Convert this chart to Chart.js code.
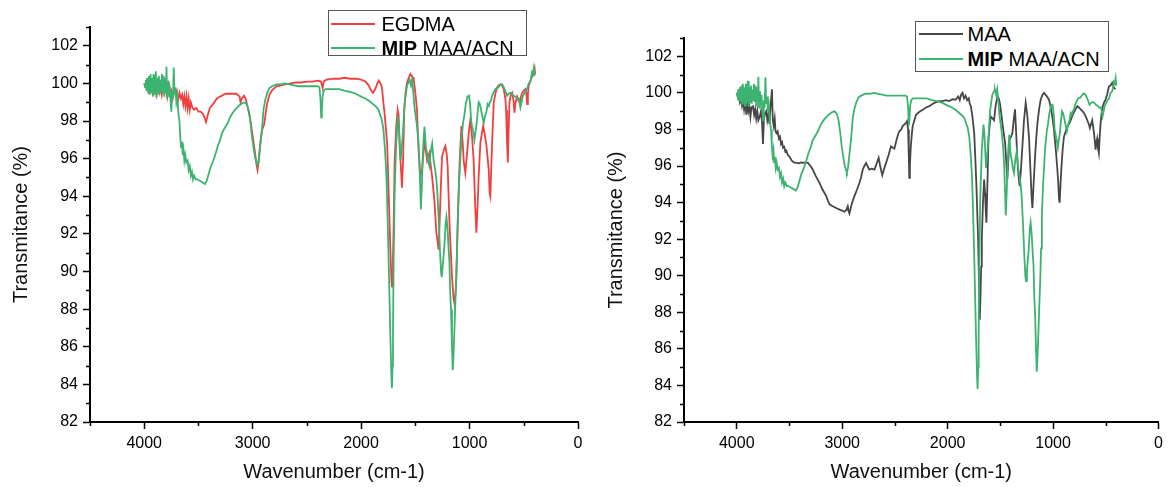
<!DOCTYPE html>
<html>
<head>
<meta charset="utf-8">
<title>FTIR spectra</title>
<script src="https://cdn.jsdelivr.net/npm/chart.js@4.4.1/dist/chart.umd.min.js"></script>
<style>
  html, body { margin: 0; padding: 0; background: #fff; }
  body { width: 1168px; height: 487px; position: relative; overflow: hidden; }
  canvas { position: absolute; top: 0; }
  #ftirLeft { left: 0; }
  #ftirRight { left: 590px; }
  .legend {
    position: absolute; box-sizing: border-box; background: #fff;
    border: 1.5px solid #555; color: #000;
    font: 20px 'Liberation Sans', Arial, sans-serif;
  }
  .legend .row {
    position: absolute; left: 0; height: 20px; line-height: 20px;
    display: flex; align-items: center; white-space: nowrap;
  }
  .legend .swatch { display: block; width: 44px; height: 2px; flex: none; }
  #legendLeft { left: 328px; top: 10px; width: 199px; height: 46px; }
  #legendRight { left: 915px; top: 21px; width: 194px; height: 51px; }
</style>
</head>
<body>
<canvas id="ftirLeft" width="590" height="487"></canvas>
<canvas id="ftirRight" width="578" height="487"></canvas>
<div id="legendLeft" class="legend"></div>
<div id="legendRight" class="legend"></div>

<script>
// ---- Axis ticks ----
const xTicks = [4000, 3000, 2000, 1000, 0];
const xMinorTicks = [4500, 3500, 2500, 1500, 500];
const yTicks = [82, 84, 86, 88, 90, 92, 94, 96, 98, 100, 102];
const yMinorTicks = [83, 85, 87, 89, 91, 93, 95, 97, 99, 101, 103];

// ---- Series labels ----
const seriesEgdma = 'EGDMA';
const seriesMaa = 'MAA';
const seriesMip = 'MIP MAA/ACN';

// ---- EGDMA spectrum (wavenumber cm-1, transmittance %) ----
const egdmaWn = [
  4000, 3985, 3975, 3962, 3950, 3938, 3925, 3912, 3900, 3888, 3875, 3862, 3850, 3838, 3825, 3812,
  3800, 3788, 3775, 3762, 3750, 3738, 3725, 3712, 3700, 3688, 3675, 3662, 3650, 3640, 3630, 3620,
  3610, 3600, 3590, 3580, 3570, 3555, 3540, 3520, 3500, 3480, 3460, 3445, 3430, 3415, 3395, 3365,
  3330, 3300, 3250, 3200, 3150, 3120, 3112, 3100, 3080, 3065, 3045, 3025, 3000, 2980, 2965, 2955,
  2945, 2932, 2915, 2895, 2880, 2868, 2845, 2820, 2780, 2740, 2700, 2650, 2600, 2550, 2500, 2450,
  2400, 2370, 2355, 2345, 2320, 2250, 2200, 2150, 2100, 2050, 2000, 1960, 1930, 1910, 1890, 1870,
  1850, 1838, 1822, 1808, 1795, 1785, 1770, 1760, 1746, 1731, 1720, 1715, 1706, 1700, 1691, 1676,
  1663, 1654, 1645, 1632, 1623, 1613, 1602, 1590, 1577, 1560, 1546, 1530, 1516, 1500, 1485, 1469,
  1454, 1438, 1417, 1405, 1392, 1371, 1346, 1325, 1306, 1285, 1269, 1254, 1235, 1223, 1210, 1202,
  1184, 1162, 1148, 1140, 1130, 1122, 1110, 1091, 1075, 1063, 1054, 1039, 1023, 1005, 992, 975,
  962, 948, 937, 925, 916, 900, 875, 860, 844, 823, 815, 808, 800, 792, 777, 760,
  746, 730, 715, 700, 685, 670, 663, 655, 647, 640, 632, 620, 607, 595, 586, 575,
  561, 548, 537, 525, 515, 500, 484, 475, 469, 462, 454, 440, 423, 410, 401, 395
];
const egdmaT = [
  100.0, 99.8, 100.1, 99.7, 99.9, 99.6, 99.9, 99.5, 99.8, 99.4, 99.9, 99.5, 99.8, 99.4, 100.0, 99.5,
  99.7, 99.3, 99.9, 99.4, 99.6, 99.2, 99.7, 99.4, 99.6, 99.1, 99.5, 99.2, 99.4, 98.9, 99.3, 98.8,
  99.3, 98.7, 99.2, 98.6, 99.0, 98.7, 98.6, 98.7, 98.5, 98.5, 98.4, 98.2, 97.95, 98.3, 98.7, 98.9,
  99.2, 99.3, 99.45, 99.45, 99.45, 99.3, 99.0, 99.2, 99.35, 99.2, 98.7, 98.2, 97.2, 96.4, 95.7, 95.4,
  95.8, 96.7, 97.5, 97.8, 98.4, 98.9, 99.4, 99.65, 99.85, 99.9, 99.95, 100.0, 100.05, 100.05, 100.1, 100.1,
  100.15, 100.1, 99.75, 100.1, 100.2, 100.25, 100.25, 100.3, 100.25, 100.25, 100.2, 100.1, 99.9, 99.65, 99.5, 99.7,
  100.0, 100.15, 100.0, 99.8, 99.0, 98.5, 97.5, 96.8, 94.2, 91.3, 89.5, 89.2, 90.8, 92.4, 95.9, 97.7,
  98.6, 98.3, 96.7, 95.4, 94.45, 95.9, 98.6, 99.5, 100.05, 100.3, 100.5, 100.35, 100.3, 99.5, 98.6, 96.3,
  95.07, 95.4, 96.85, 96.5, 95.9, 96.3, 95.07, 93.83, 92.06, 91.17, 93.8, 96.1, 96.5, 96.67, 96.2, 95.6,
  92.4, 89.74, 88.6, 88.33, 88.8, 89.7, 92.4, 95.9, 97.74, 96.8, 95.9, 95.25, 96.3, 97.5, 98.1, 97.0,
  95.9, 93.5, 92.06, 93.6, 95.07, 96.85, 97.74, 97.3, 96.7, 95.4, 94.2, 94.0, 95.5, 96.85, 98.99, 99.5,
  99.79, 99.9, 99.95, 99.9, 99.7, 99.2, 98.6, 97.0, 95.8, 97.5, 99.0, 99.4, 99.5, 99.1, 98.45, 99.0,
  99.3, 99.1, 98.99, 99.3, 99.5, 99.6, 99.7, 99.4, 98.9, 99.4, 99.9, 100.1, 100.4, 100.7, 100.85, 100.5
];

// ---- MIP MAA/ACN spectrum ----
const mipWn = [
  4000, 3992, 3985, 3978, 3970, 3963, 3956, 3949, 3942, 3935, 3928, 3921, 3914, 3907, 3900, 3893,
  3886, 3879, 3872, 3865, 3858, 3851, 3844, 3837, 3830, 3822, 3815, 3808, 3800, 3795, 3788, 3780,
  3772, 3765, 3757, 3750, 3743, 3735, 3728, 3720, 3712, 3704, 3695, 3685, 3675, 3668, 3660, 3652,
  3645, 3638, 3630, 3622, 3612, 3600, 3590, 3580, 3570, 3560, 3550, 3540, 3525, 3510, 3495, 3480,
  3465, 3450, 3440, 3425, 3405, 3385, 3363, 3340, 3320, 3300, 3280, 3260, 3230, 3200, 3170, 3147,
  3120, 3095, 3072, 3050, 3035, 3020, 3005, 2990, 2975, 2962, 2955, 2945, 2932, 2915, 2900, 2885,
  2865, 2845, 2820, 2780, 2740, 2700, 2660, 2620, 2580, 2540, 2500, 2450, 2400, 2385, 2375, 2368,
  2362, 2355, 2345, 2330, 2300, 2250, 2200, 2150, 2100, 2050, 2000, 1960, 1920, 1890, 1860, 1840,
  1823, 1810, 1795, 1780, 1770, 1762, 1746, 1731, 1720, 1716, 1710, 1706, 1700, 1691, 1676, 1660,
  1652, 1645, 1636, 1625, 1614, 1598, 1577, 1560, 1552, 1540, 1530, 1520, 1509, 1495, 1485, 1473,
  1463, 1455, 1449, 1440, 1433, 1424, 1416, 1402, 1392, 1380, 1370, 1360, 1345, 1331, 1317, 1306,
  1297, 1285, 1272, 1262, 1256, 1248, 1233, 1220, 1213, 1202, 1193, 1186, 1178, 1171, 1162, 1155,
  1150, 1140, 1130, 1122, 1114, 1106, 1095, 1085, 1075, 1060, 1048, 1035, 1020, 1005, 995, 985,
  977, 965, 955, 946, 937, 928, 916, 905, 894, 880, 869, 856, 844, 834, 823, 812,
  802, 792, 780, 762, 740, 715, 700, 685, 670, 654, 640, 624, 608, 593, 578, 562,
  545, 531, 520, 510, 500, 485, 469, 455, 438, 424, 415, 407, 400
];
const mipT = [
  100.0, 99.8, 100.2, 99.6, 100.3, 99.5, 100.4, 99.4, 100.5, 99.5, 100.3, 99.3, 100.5, 99.4, 100.4, 100.65,
  99.25, 100.3, 99.5, 100.4, 99.4, 100.2, 99.6, 100.5, 99.5, 100.4, 99.3, 100.3, 99.5, 100.88, 99.2, 100.1,
  99.3, 99.9, 99.1, 98.5, 99.6, 99.2, 100.85, 99.4, 99.8, 99.0, 99.3, 98.4, 98.0, 97.2, 96.6, 96.9,
  96.2, 96.5, 95.9, 96.2, 95.8, 95.9, 95.4, 95.6, 95.1, 95.3, 94.9, 95.1, 94.9, 94.9, 94.85, 94.8,
  94.75, 94.7, 94.65, 94.8, 95.2, 95.6, 95.9, 96.3, 96.7, 97.0, 97.4, 97.6, 97.9, 98.3, 98.55, 98.7,
  98.85, 98.95, 98.99, 98.85, 98.5, 97.9, 97.1, 96.5, 96.0, 95.75, 95.65, 95.9, 96.6, 97.5, 98.6, 99.1,
  99.5, 99.75, 99.85, 99.95, 99.95, 100.0, 99.95, 99.9, 99.85, 99.85, 99.85, 99.85, 99.85, 99.8, 99.2, 98.2,
  98.6, 99.3, 99.6, 99.7, 99.7, 99.7, 99.7, 99.6, 99.55, 99.45, 99.3, 99.2, 99.05, 98.9, 98.75, 98.6,
  98.3, 98.1, 97.6, 96.5, 95.5, 94.2, 90.6, 86.7, 84.3, 83.8, 85.0, 86.7, 90.6, 94.2, 96.85, 98.27,
  97.8, 97.0, 95.9, 96.6, 97.4, 99.0, 99.87, 100.1, 100.2, 99.9, 100.2, 99.6, 98.8, 98.2, 97.74, 97.0,
  95.9, 94.5, 93.3, 94.5, 95.9, 97.0, 97.7, 96.6, 96.3, 95.8, 95.6, 96.3, 96.8, 95.9, 95.4, 94.9,
  94.2, 92.8, 91.0, 89.9, 89.7, 90.3, 91.3, 92.6, 92.9, 92.2, 91.2, 90.6, 88.8, 87.97, 86.0, 84.75,
  85.2, 86.8, 88.5, 89.74, 91.5, 93.3, 95.0, 96.0, 97.0, 97.9, 98.3, 98.9, 99.3, 99.35, 98.9, 98.0,
  97.74, 97.4, 97.0, 97.4, 97.74, 98.3, 99.0, 98.9, 98.6, 98.2, 97.9, 98.3, 98.5, 98.9, 98.8, 99.0,
  99.1, 99.34, 99.5, 99.7, 99.75, 99.95, 99.95, 99.8, 99.6, 99.34, 99.45, 99.5, 99.45, 99.34, 99.3, 99.2,
  99.2, 98.72, 99.0, 99.3, 99.4, 99.6, 99.7, 100.0, 100.1, 100.6, 100.5, 100.8, 100.4
];

// ---- MAA spectrum ----
const maaWn = [
  4000, 3990, 3980, 3970, 3960, 3950, 3940, 3930, 3920, 3908, 3900, 3890, 3880, 3870, 3860, 3846,
  3835, 3825, 3815, 3805, 3795, 3782, 3770, 3760, 3751, 3742, 3730, 3719, 3710, 3700, 3690, 3680,
  3666, 3658, 3650, 3640, 3632, 3624, 3612, 3600, 3590, 3580, 3570, 3561, 3550, 3540, 3530, 3515,
  3498, 3480, 3460, 3435, 3410, 3390, 3373, 3350, 3325, 3300, 3278, 3250, 3215, 3185, 3151, 3135,
  3120, 3090, 3057, 3020, 2995, 2978, 2960, 2947, 2938, 2931, 2915, 2900, 2884, 2860, 2836, 2820,
  2805, 2790, 2773, 2760, 2742, 2720, 2694, 2675, 2654, 2640, 2628, 2620, 2605, 2584, 2560, 2537,
  2520, 2505, 2490, 2472, 2458, 2440, 2425, 2410, 2395, 2385, 2375, 2368, 2364, 2358, 2350, 2340,
  2332, 2315, 2300, 2270, 2237, 2205, 2174, 2140, 2111, 2080, 2050, 2016, 1985, 1955, 1922, 1900,
  1885, 1872, 1859, 1845, 1830, 1815, 1800, 1790, 1780, 1765, 1748, 1736, 1727, 1711, 1702, 1695,
  1688, 1682, 1676, 1665, 1654, 1645, 1638, 1632, 1625, 1613, 1600, 1591, 1575, 1560, 1545, 1528,
  1515, 1503, 1492, 1481, 1468, 1455, 1445, 1434, 1424, 1412, 1398, 1386, 1372, 1361, 1350, 1339,
  1328, 1317, 1305, 1292, 1276, 1260, 1245, 1228, 1215, 1203, 1196, 1185, 1171, 1160, 1149, 1133,
  1118, 1100, 1086, 1065, 1039, 1022, 1008, 992, 976, 962, 951, 944, 938, 928, 919, 908,
  897, 880, 866, 850, 834, 820, 805, 788, 771, 755, 739, 722, 707, 690, 676, 662,
  651, 640, 629, 612, 597, 590, 582, 575, 566, 558, 550, 540, 528, 515, 503, 488,
  471, 455, 440, 425, 408
];
const maaT = [
  100.0, 99.8, 99.9, 99.5, 99.7, 99.3, 99.63, 99.1, 99.5, 98.8, 99.4, 99.0, 99.3, 98.7, 99.2, 99.27,
  98.8, 99.1, 98.6, 99.0, 98.5, 98.7, 99.0, 98.4, 97.2, 98.6, 98.9, 99.0, 98.5, 98.8, 98.3, 99.2,
  100.2, 98.5, 98.2, 98.6, 97.9, 97.8, 97.9, 97.5, 97.6, 97.2, 97.3, 97.0, 97.05, 96.8, 96.85, 96.6,
  96.5, 96.3, 96.2, 96.17, 96.15, 96.2, 96.17, 96.2, 96.17, 96.0, 95.8, 95.45, 95.08, 94.7, 94.35, 94.1,
  93.9, 93.8, 93.7, 93.6, 93.55, 93.5, 93.6, 93.8, 93.5, 93.4, 93.8, 94.1, 94.35, 94.7, 95.08, 95.4,
  95.8, 96.0, 96.17, 96.0, 95.8, 95.85, 95.8, 96.1, 96.45, 96.0, 95.7, 95.5, 95.8, 96.17, 96.6, 97.08,
  97.0, 96.95, 97.3, 97.7, 97.9, 98.0, 98.2, 98.27, 98.35, 98.45, 98.0, 96.5, 95.35, 96.0, 97.0, 97.7,
  98.17, 98.5, 98.8, 98.95, 99.07, 99.2, 99.27, 99.4, 99.49, 99.55, 99.55, 99.6, 99.55, 99.65, 99.63, 99.8,
  99.6, 99.9, 100.0, 99.7, 99.85, 99.6, 99.7, 99.4, 99.27, 98.7, 97.8, 96.2, 94.9, 92.0, 89.5, 87.6,
  89.0, 90.5, 92.0, 94.0, 95.26, 94.5, 93.5, 92.9, 94.5, 97.45, 98.3, 98.7, 98.6, 98.5, 99.3, 99.8,
  99.7, 99.4, 98.9, 98.36, 97.8, 97.27, 96.3, 95.26, 96.4, 97.5, 97.6, 97.8, 98.6, 99.1, 97.8, 96.35,
  95.5, 94.9, 95.8, 97.0, 98.5, 99.45, 98.8, 97.5, 95.8, 94.2, 93.7, 95.0, 96.5, 97.5, 98.3, 99.1,
  99.63, 99.9, 100.0, 99.85, 99.63, 99.2, 98.72, 98.0, 97.0, 96.0, 95.08, 94.2, 93.99, 95.2, 96.1, 97.0,
  97.6, 97.9, 98.17, 98.3, 98.5, 98.7, 98.9, 99.1, 99.27, 99.2, 99.1, 99.0, 98.9, 98.7, 98.5, 98.3,
  98.08, 98.3, 98.5, 97.8, 96.9, 97.3, 97.5, 97.0, 96.7, 97.6, 98.3, 98.9, 99.27, 99.5, 99.63, 99.9,
  100.36, 100.4, 100.55, 100.3, 100.2
];

// ---- Colours ----
const colorEgdma = '#f03f3f';
const colorMip = '#3cb371';
const colorMaa = '#474747';

const FONT = "'Liberation Sans', Arial, Helvetica, sans-serif";
Chart.defaults.font.family = FONT;
Chart.defaults.color = '#000';

const toPoints = (wn, t) => wn.map((x, i) => ({ x, y: t[i] }));

// Short outward minor tick marks on both axes, placed through the chart's scales
const minorTicksPlugin = {
  id: 'minorTicks',
  afterDraw(chart) {
    const { ctx } = chart;
    const xs = chart.scales.x, ys = chart.scales.y;
    ctx.save();
    ctx.strokeStyle = '#000';
    ctx.lineWidth = 1.5;
    ctx.beginPath();
    xMinorTicks.forEach(v => {
      const p = Math.round(xs.getPixelForValue(v)) + 0.5;
      ctx.moveTo(p, xs.top);
      ctx.lineTo(p, xs.top + 4);
    });
    yMinorTicks.forEach(v => {
      const p = Math.round(ys.getPixelForValue(v)) + 0.5;
      ctx.moveTo(ys.right, p);
      ctx.lineTo(ys.right - 4, p);
    });
    ctx.stroke();
    ctx.restore();
  }
};

// Boxed legend written as HTML so the "MIP" prefix can be bold
const htmlLegendPlugin = {
  id: 'htmlLegend',
  afterUpdate(chart, args, opts) {
    const box = document.getElementById(opts.containerID);
    box.innerHTML = '';
    opts.order.forEach((dsIndex, row) => {
      const ds = chart.data.datasets[dsIndex];
      const item = document.createElement('div');
      item.className = 'row';
      item.style.top = opts.rowTops[row] + 'px';
      const sw = document.createElement('span');
      sw.className = 'swatch';
      sw.style.background = ds.borderColor;
      sw.style.marginLeft = opts.swatchLeft + 'px';
      sw.style.marginRight = opts.swatchGap + 'px';
      const txt = document.createElement('span');
      if (ds.boldPrefix && ds.label.startsWith(ds.boldPrefix)) {
        const b = document.createElement('b');
        b.textContent = ds.boldPrefix;
        txt.appendChild(b);
        txt.appendChild(document.createTextNode(ds.label.slice(ds.boldPrefix.length)));
      } else {
        txt.textContent = ds.label;
      }
      item.appendChild(sw);
      item.appendChild(txt);
      box.appendChild(item);
    });
  }
};

function makeOptions(cfg) {
  return {
    responsive: false,
    animation: false,
    events: [],
    layout: { padding: cfg.padding },
    elements: { point: { radius: 0 }, line: { tension: 0, borderWidth: 1.8 } },
    plugins: {
      legend: { display: false },
      tooltip: { enabled: false },
      htmlLegend: cfg.legend
    },
    scales: {
      x: {
        type: 'linear',
        reverse: true,
        min: 0,
        max: 4500,
        afterBuildTicks: s => { s.ticks = xTicks.map(v => ({ value: v })); },
        afterFit: s => { s.height = 65; },
        ticks: { callback: v => String(v), font: { size: 16 }, padding: 5, maxRotation: 0, color: '#000' },
        grid: { drawOnChartArea: false, drawTicks: true, tickLength: 7, tickWidth: 1.5, tickColor: '#000' },
        border: { display: true, color: '#000', width: 2 },
        title: { display: true, text: 'Wavenumber (cm-1)', font: { size: 20 }, color: '#111', padding: { top: 0, bottom: 3 } }
      },
      y: {
        type: 'linear',
        min: 82,
        max: 103,
        afterBuildTicks: s => { s.ticks = yTicks.map(v => ({ value: v })); },
        afterFit: s => { s.width = cfg.yWidth; },
        ticks: { callback: v => String(v), font: { size: 16 }, padding: 5, color: '#000' },
        grid: { drawOnChartArea: false, drawTicks: true, tickLength: 7, tickWidth: 1.5, tickColor: '#000' },
        border: { display: true, color: '#000', width: 2 },
        title: { display: true, text: 'Transmitance (%)', font: { size: 20 }, color: '#111', padding: { top: cfg.yTitlePad, bottom: 0 } }
      }
    }
  };
}

// Left panel: EGDMA vs MIP
new Chart(document.getElementById('ftirLeft'), {
  type: 'line',
  data: {
    datasets: [
      { label: seriesEgdma, data: toPoints(egdmaWn, egdmaT), borderColor: colorEgdma, order: 1 },
      { label: seriesMip, boldPrefix: 'MIP', data: toPoints(mipWn, mipT), borderColor: colorMip, order: 0 }
    ]
  },
  options: makeOptions({
    padding: { left: 0, right: 12, top: 27, bottom: 0 },
    yWidth: 90,
    yTitlePad: 9,
    legend: { containerID: 'legendLeft', order: [0, 1], rowTops: [2.5, 26.5], swatchLeft: 1.5, swatchGap: 7 }
  }),
  plugins: [minorTicksPlugin, htmlLegendPlugin]
});

// Right panel: MAA vs MIP
new Chart(document.getElementById('ftirRight'), {
  type: 'line',
  data: {
    datasets: [
      { label: seriesMaa, data: toPoints(maaWn, maaT), borderColor: colorMaa, order: 1 },
      { label: seriesMip, boldPrefix: 'MIP', data: toPoints(mipWn, mipT), borderColor: colorMip, order: 0 }
    ]
  },
  options: makeOptions({
    padding: { left: 10, right: 8, top: 38, bottom: 0 },
    yWidth: 84,
    yTitlePad: 4,
    legend: { containerID: 'legendRight', order: [0, 1], rowTops: [1.5, 26.5], swatchLeft: 2.5, swatchGap: 5 }
  }),
  plugins: [minorTicksPlugin, htmlLegendPlugin]
});
</script>
</body>
</html>
